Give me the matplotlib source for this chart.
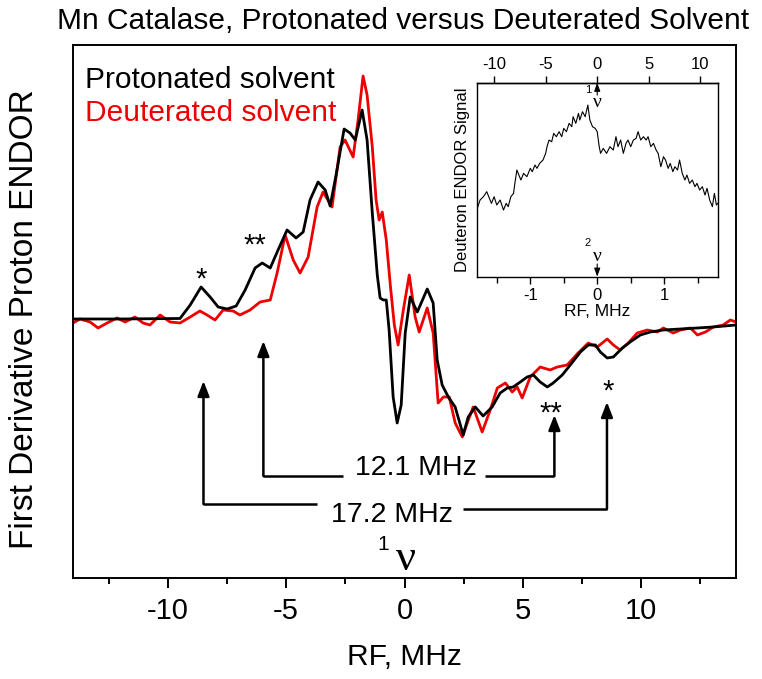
import matplotlib
matplotlib.use("Agg")
import matplotlib.pyplot as plt
from matplotlib.ticker import MultipleLocator

plt.rcParams["font.family"] = ["Liberation Sans", "DejaVu Sans"]
plt.rcParams["axes.unicode_minus"] = False

# --- main spectra (RF offset in MHz, derivative signal in arbitrary units) ---
prot_x = [-14.0, -12.01, -9.48, -9.05, -8.59, -8.21, -7.87, -7.49, -7.11, -6.73,
          -6.31, -6.01, -5.67, -5.34, -4.96, -4.58, -4.28, -3.99, -3.65, -3.35,
          -3.14, -2.89, -2.55, -2.30, -2.08, -1.79, -1.58, -1.36, -1.15, -1.03,
          -0.90, -0.77, -0.65, -0.48, -0.31, -0.14, 0.03, 0.24, 0.54, 0.96,
          1.21, 1.38, 1.59, 1.85, 2.14, 2.48, 2.69, 2.99, 3.32, 3.70,
          4.04, 4.34, 4.59, 4.89, 5.18, 5.44, 5.73, 6.03, 6.28, 6.66,
          7.00, 7.43, 7.76, 8.06, 8.27, 8.56, 8.82, 9.20, 9.53, 9.96,
          10.38, 10.93, 11.65, 12.37, 13.04, 14.0]
prot_y = [1, 1, 1.5, 15, 33, 23, 13, 11, 14, 30,
          52, 57, 52, 70, 90, 82, 88, 120, 138, 130,
          114, 145, 191, 187, 180, 210, 180, 107, 45, 22,
          20, 20, -10, -77, -103, -85, -13, 23, 8, 31,
          17, -40, -65, -77, -87, -115, -97, -87, -96, -87,
          -73, -68, -67, -62, -57, -55, -62, -67, -63, -55,
          -45, -32, -25, -25, -32, -38, -37, -28, -22, -15,
          -12, -10, -9, -8, -7, -5]

deut_x = [-14.0, -13.70, -13.28, -12.94, -12.56, -12.14, -11.80, -11.38, -11.04, -10.75,
          -10.32, -9.90, -9.48, -9.05, -8.64, -8.34, -8.00, -7.66, -7.24, -6.95,
          -6.52, -6.10, -5.67, -5.38, -5.04, -4.70, -4.41, -4.07, -3.69, -3.44,
          -3.06, -2.72, -2.51, -2.17, -1.96, -1.75, -1.58, -1.36, -1.20, -1.07,
          -0.94, -0.77, -0.60, -0.43, -0.27, -0.05, 0.20, 0.45, 0.62, 0.96,
          1.21, 1.42, 1.64, 1.89, 2.14, 2.44, 2.65, 2.90, 3.28, 3.62,
          3.92, 4.26, 4.55, 4.76, 4.97, 5.31, 5.73, 6.15, 6.45, 6.87,
          7.33, 7.76, 8.14, 8.56, 8.82, 9.11, 9.45, 9.83, 10.25, 10.68,
          10.93, 11.35, 11.65, 12.07, 12.37, 12.71, 13.04, 13.46, 13.76, 14.0]
deut_y = [-3, 1, -2, -8, -3, 2, -2, 3, -3, -5,
          5, -2, -3, 3, 9, 5, 0, 10, 9, 5,
          10, 18, 20, 47, 85, 60, 47, 63, 113, 128,
          113, 173, 180, 163, 200, 244, 225, 173, 120, 100,
          108, 80, 35, -5, -25, 10, 45, 3, -12, 12,
          -13, -83, -77, -77, -103, -117, -103, -87, -112, -90,
          -68, -63, -72, -67, -78, -57, -47, -50, -47, -45,
          -33, -23, -27, -19, -25, -30, -23, -13, -10, -12,
          -8, -13, -10, -8, -15, -12, -7, -5, 0, -2]

# --- inset: deuteron ENDOR (RF offset in MHz, signal in arbitrary units) ---
d_x = [-1.80, -1.75, -1.70, -1.65, -1.61, -1.58, -1.54, -1.50, -1.45, -1.40,
       -1.36, -1.33, -1.29, -1.25, -1.23, -1.20, -1.18, -1.14, -1.10, -1.05,
       -1.00, -0.97, -0.93, -0.90, -0.86, -0.81, -0.77, -0.75, -0.72, -0.68,
       -0.65, -0.61, -0.57, -0.53, -0.50, -0.46, -0.42, -0.38, -0.36, -0.32,
       -0.28, -0.26, -0.22, -0.18, -0.14, -0.11, -0.07, -0.03, 0.00, 0.03,
       0.05, 0.09, 0.14, 0.19, 0.24, 0.28, 0.31, 0.35, 0.39, 0.43,
       0.46, 0.50, 0.54, 0.58, 0.61, 0.65, 0.69, 0.73, 0.76, 0.80,
       0.84, 0.88, 0.91, 0.95, 0.99, 1.02, 1.06, 1.09, 1.13, 1.16,
       1.20, 1.23, 1.27, 1.31, 1.34, 1.38, 1.42, 1.46, 1.49, 1.53,
       1.57, 1.61, 1.64, 1.68, 1.72, 1.75, 1.78, 1.80]
d_y = [200, 230, 240, 255, 235, 220, 240, 215, 230, 200,
       220, 210, 240, 250, 280, 320, 310, 290, 310, 300,
       325, 315, 335, 325, 340, 350, 370, 390, 410, 405,
       430, 420, 435, 420, 445, 435, 460, 450, 480, 460,
       490, 470, 495, 480, 515, 470, 450, 445, 435, 390,
       370, 385, 370, 390, 380, 420, 390, 410, 370, 400,
       410, 390, 410, 415, 435, 410, 420, 410, 420, 390,
       400, 380, 370, 330, 360, 350, 325, 340, 315, 330,
       320, 350, 310, 290, 305, 280, 290, 270, 280, 260,
       270, 245, 265, 230, 210, 250, 215, 220]

main_ticks = [-10, -5, 0, 5, 10]
inset_ticks = [-1, 0, 1]
top_ticks = [-10, -5, 0, 5, 10]
GAMMA_RATIO = 6.5  # proton / deuteron Larmor ratio used for the top axis

fig = plt.figure(figsize=(7.62, 6.79), dpi=100)
ax = fig.add_axes([0.0958, 0.1488, 0.8701, 0.7849])

ax.plot(prot_x, prot_y, color="black", lw=2.0, solid_joinstyle="round", zorder=3)
ax.plot(deut_x, deut_y, color="#ee0000", lw=2.0, solid_joinstyle="round", zorder=2)

ax.set_xlim(-14, 14)
ax.set_ylim(-258, 275)
ax.set_yticks([])
ax.set_xticks(main_ticks)
ax.xaxis.set_minor_locator(MultipleLocator(2.5))
ax.tick_params(axis="x", which="major", direction="out", length=7, width=1.4,
               labelsize=21, pad=7)
ax.tick_params(axis="x", which="minor", direction="out", length=4, width=1.4)
for s in ax.spines.values():
    s.set_linewidth(1.4)

ax.set_xlabel("RF, MHz", fontsize=21.5)
ax.xaxis.set_label_coords(0.5, -0.122)
ax.set_ylabel("First Derivative Proton ENDOR", fontsize=24)
ax.yaxis.set_label_coords(-0.05, 0.485)

fig.text(0.529, 0.969, "Mn Catalase, Protonated versus Deuterated Solvent",
         ha="center", va="center", fontsize=21.5)

ax.text(0.018, 0.919, "Protonated solvent", transform=ax.transAxes,
        fontsize=21.5, color="black", va="baseline")
ax.text(0.018, 0.857, "Deuterated solvent", transform=ax.transAxes,
        fontsize=21.5, color="#ee0000", va="baseline")

# satellite markers
for sx, sy, s in [(-8.59, 32, "*"), (-6.31, 66, "**"), (6.2, -102, "**"), (8.6, -80, "*")]:
    ax.text(sx, sy, s, ha="center", va="baseline", fontsize=21)

# splitting arrows
arrow_kw = dict(arrowstyle="-|>,head_length=0.9,head_width=0.35", color="black",
                lw=1.8, shrinkA=0, shrinkB=0)
arrows = [(-8.49, -184, -61), (-5.96, -156, -21), (6.33, -156, -95), (8.55, -189, -82)]
for axx, y0, y1 in arrows:
    ax.annotate("", xy=(axx, y1), xytext=(axx, y0), arrowprops=arrow_kw)
ax.plot([-8.49, -3.69], [-184, -184], color="black", lw=1.8, solid_capstyle="butt")
ax.plot([2.47, 8.55], [-189, -189], color="black", lw=1.8, solid_capstyle="butt")
ax.plot([-5.96, -2.59], [-156, -156], color="black", lw=1.8, solid_capstyle="butt")
ax.plot([3.41, 6.33], [-156, -156], color="black", lw=1.8, solid_capstyle="butt")
ax.text(0.48, -148, "12.1 MHz", ha="center", va="center", fontsize=20.5)
ax.text(-0.54, -195, "17.2 MHz", ha="center", va="center", fontsize=20.5)
ax.text(-0.9, -225, "1", ha="center", va="center", fontsize=15)
ax.text(0.07, -239, "ν", ha="center", va="center", fontsize=32,
        family=["Liberation Serif", "DejaVu Serif"])

# --- inset ---
ins = fig.add_axes([0.6256, 0.5925, 0.3163, 0.2857])
ins.plot(d_x, d_y, color="black", lw=0.8)
ins.set_xlim(-1.8, 1.8)
ins.set_ylim(0, 582)
ins.set_yticks([])
ins.set_xticks(inset_ticks)
ins.xaxis.set_minor_locator(MultipleLocator(0.5))
ins.tick_params(axis="x", which="major", direction="out", length=5, width=1,
                labelsize=12, pad=3)
ins.tick_params(axis="x", which="minor", direction="out", length=4, width=1)
for s in ins.spines.values():
    s.set_linewidth(1.0)
ins.set_xlabel("RF, MHz", fontsize=12.5, labelpad=1)
ins.set_ylabel("Deuteron ENDOR Signal", fontsize=12, labelpad=5)

top = ins.secondary_xaxis("top", functions=(lambda v: v * GAMMA_RATIO,
                                            lambda v: v / GAMMA_RATIO))
top.set_xticks(top_ticks)
top.tick_params(direction="out", length=5, width=1, labelsize=12, pad=3)
top.spines["top"].set_linewidth(1.0)

ins_arrow = dict(arrowstyle="-|>,head_length=0.5,head_width=0.18", color="black",
                 lw=0.8, shrinkA=0, shrinkB=0)
ins.annotate("", xy=(0, 582), xytext=(0, 545), arrowprops=ins_arrow)
ins.annotate("", xy=(0, 0), xytext=(0, 38), arrowprops=ins_arrow)
ins.text(-0.14, 560, "1", ha="center", va="center", fontsize=8)
ins.text(0.0, 523, "ν", ha="center", va="center", fontsize=14,
         family=["Liberation Serif", "DejaVu Serif"])
ins.text(-0.14, 100, "2", ha="center", va="center", fontsize=8)
ins.text(0.0, 60, "ν", ha="center", va="center", fontsize=14,
         family=["Liberation Serif", "DejaVu Serif"])

fig.savefig("out.png", dpi=100)
